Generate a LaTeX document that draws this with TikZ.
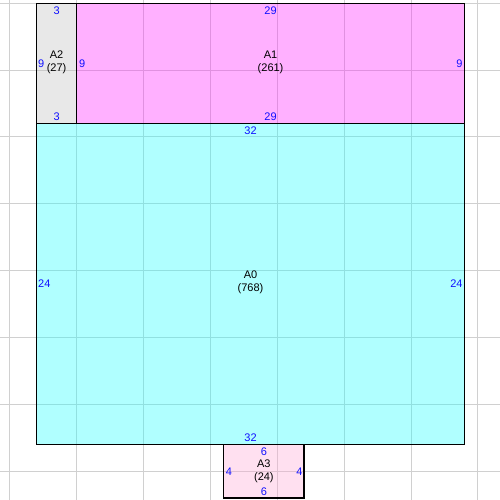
\documentclass[tikz,border=0pt]{standalone}
\usepackage{fontspec}
\setmainfont{Liberation Sans}
% base colours chosen so that at fill opacity 0.36 over white they give
% B0FFFF, FFB0FF, E8E8E8, FFE0F0 and tint the grid beneath them
\definecolor{fillA0}{RGB}{36,255,255}
\definecolor{fillA1}{RGB}{255,36,255}
\definecolor{fillA2}{RGB}{191,191,191}
\definecolor{fillA3}{RGB}{255,169,213}
\definecolor{gridgray}{RGB}{208,208,208}
\definecolor{numblue}{HTML}{1010FF}
\def\u{10.03125pt}
\tikzset{
  region/.style={rectangle, inner sep=0pt, outer sep=0pt, anchor=north west, fill opacity=0.36},
  gridline/.style={draw=gridgray, line width=0.75pt},
  border/.style={draw=black, line width=0.9pt},
  lbl/.style={text=numblue, inner sep=0pt, font=\fontsize{8.25}{9.75}\selectfont},
  nametext/.style={text=black, inner sep=0pt, align=center, font=\fontsize{8.25}{9.75}\selectfont},
}
\begin{document}
\begin{tikzpicture}[x=\u, y={(0,-\u)}]
\useasboundingbox (-2.729,-9.234) rectangle ++(37.383,37.383);
% grid
\foreach \gx in {-2,3,8,13,18,23,28,33}
  \draw[gridline] (\gx,-9.3) -- (\gx,28.2);
\foreach \gy in {-9,-4,1,6,11,16,21,26}
  \draw[gridline] (-2.8,\gy) -- (34.7,\gy);
% regions (fills)
\node[region, fill=fillA2, minimum width=3*\u, minimum height=9*\u] (A2) at (0,-9) {};
\node[region, fill=fillA1, minimum width=29*\u, minimum height=9*\u] (A1) at (3,-9) {};
\node[region, fill=fillA0, minimum width=32*\u, minimum height=24*\u] (A0) at (0,0) {};
\node[region, fill=fillA3, minimum width=6*\u, minimum height=4*\u] (A3) at (14,24) {};
% borders
\foreach \n in {A0,A1,A2,A3}
  \draw[border] (\n.north west) rectangle (\n.south east);
% A2 labels
\node[lbl, anchor=north] (A2t) at ([yshift=-2.2pt]A2.north) {3};
\node[lbl, anchor=south] (A2b) at ([yshift=1.9pt]A2.south) {3};
\node[lbl, anchor=west] (A2l) at ([xshift=1.1pt]A2.west) {9};
\node[nametext] (A2n) at ([yshift=0.5pt]A2.center) {A2\\(27)};
% A1 labels
\node[lbl, anchor=north] (A1t) at ([yshift=-2.2pt]A1.north) {29};
\node[lbl, anchor=south] (A1b) at ([yshift=1.9pt]A1.south) {29};
\node[lbl, anchor=west] (A1l) at ([xshift=1.6pt]A1.west) {9};
\node[lbl, anchor=east] (A1r) at ([xshift=-1.3pt]A1.east) {9};
\node[nametext] (A1n) at ([yshift=0.5pt]A1.center) {A1\\(261)};
% A0 labels
\node[lbl, anchor=north] (A0t) at ([yshift=-2.2pt]A0.north) {32};
\node[lbl, anchor=south] (A0b) at ([yshift=1.9pt]A0.south) {32};
\node[lbl, anchor=west] (A0l) at ([xshift=1.1pt]A0.west) {24};
\node[lbl, anchor=east] (A0r) at ([xshift=-1.3pt]A0.east) {24};
\node[nametext] (A0n) at ([yshift=1.2pt]A0.center) {A0\\(768)};
% A3 labels
\node[lbl, anchor=north] (A3t) at ([yshift=-2.2pt]A3.north) {6};
\node[lbl, anchor=south] (A3b) at ([yshift=1.9pt]A3.south) {6};
\node[lbl, anchor=west] (A3l) at ([xshift=1.3pt]A3.west) {4};
\node[lbl, anchor=east] (A3r) at ([xshift=-0.9pt]A3.east) {4};
\node[nametext] (A3n) at ([yshift=0.3pt]A3.center) {A3\\(24)};
\end{tikzpicture}
\end{document}
